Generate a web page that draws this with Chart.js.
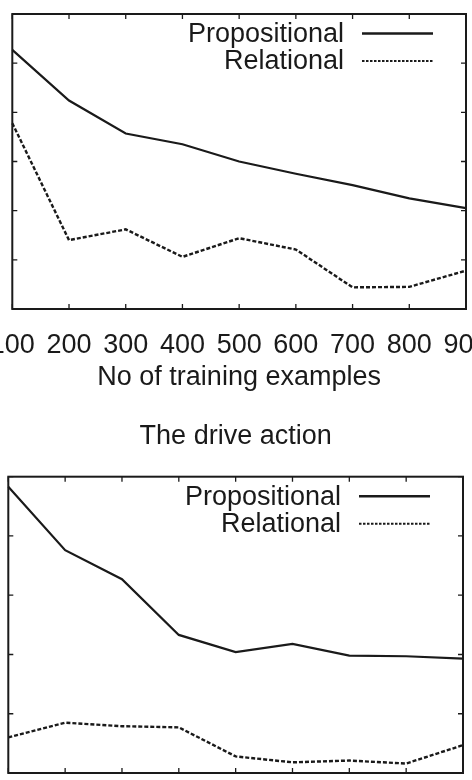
<!DOCTYPE html>
<html>
<head>
<meta charset="utf-8">
<script src="https://cdn.jsdelivr.net/npm/chart.js@4.4.1/dist/chart.umd.min.js"></script>
<style>
  html, body { margin: 0; padding: 0; background: #fff; overflow: hidden; width: 472px; height: 780px; position: relative; }
  canvas { position: absolute; }
  #topChart { left: -60px; top: 0px; }
  #driveChart { left: -60px; top: 400px; }
</style>
</head>
<body>
<canvas id="topChart" width="592" height="394"></canvas>
<canvas id="driveChart" width="592" height="458"></canvas>
<script>
const xLabels = ["100", "200", "300", "400", "500", "600", "700", "800", "900"];

// upper panel (its y labels are cropped off in the original)
const topPropositional = [5.27, 4.24, 3.57, 3.35, 3.00, 2.75, 2.52, 2.25, 2.05];
const topRelational    = [3.78, 1.40, 1.62, 1.06, 1.44, 1.21, 0.44, 0.45, 0.78];

// "The drive action"
const drivePropositional = [4.83, 3.76, 3.27, 2.33, 2.04, 2.18, 1.98, 1.97, 1.93];
const driveRelational    = [0.60, 0.85, 0.79, 0.77, 0.28, 0.18, 0.21, 0.16, 0.47];

const INK = "#1a1a1a";
const FONT = "'Liberation Sans', Arial, sans-serif";
const FS = 27;

// gnuplot style: closed frame, inward mirrored ticks, key with text then sample
const gnuplotFrame = {
  id: "gnuplotFrame",
  afterDatasetsDraw(chart) {
    const { ctx, chartArea: a, scales: { x, y } } = chart;
    ctx.save();
    ctx.strokeStyle = INK;
    ctx.lineWidth = 1.3;
    ctx.beginPath();
    x.ticks.forEach((t, i) => {
      const px = x.getPixelForTick(i);
      ctx.moveTo(px, a.bottom); ctx.lineTo(px, a.bottom - 5);
      ctx.moveTo(px, a.top); ctx.lineTo(px, a.top + 5);
    });
    y.ticks.forEach((t, i) => {
      const py = y.getPixelForTick(i);
      ctx.moveTo(a.left, py); ctx.lineTo(a.left + 5, py);
      ctx.moveTo(a.right, py); ctx.lineTo(a.right - 5, py);
    });
    ctx.stroke();
    ctx.lineWidth = 2;
    ctx.strokeRect(a.left, a.top, a.right - a.left, a.bottom - a.top);

    ctx.font = FS + "px " + FONT;
    ctx.fillStyle = INK;
    ctx.textAlign = "right";
    ctx.textBaseline = "middle";
    chart.data.datasets.forEach((ds, i) => {
      const ky = a.top + 19.5 + i * 27.5;
      ctx.fillText(ds.label, a.right - 122, ky + 1);
      ctx.setLineDash(i ? [2.5, 1.5] : []);
      ctx.lineWidth = i ? 2 : 2.4;
      ctx.beginPath();
      ctx.moveTo(a.right - 104, ky);
      ctx.lineTo(a.right - 33, ky);
      ctx.stroke();
    });
    ctx.restore();
  }
};

function makeChart(id, prop, rel, yMax, opts) {
  return new Chart(document.getElementById(id), {
    type: "line",
    data: {
      labels: xLabels,
      datasets: [
        { label: "Propositional", data: prop, borderColor: INK, borderWidth: 2.2, pointRadius: 0, tension: 0 },
        { label: "Relational", data: rel, borderColor: INK, borderWidth: 2.4, borderDash: [4, 2], pointRadius: 0, tension: 0 }
      ]
    },
    options: {
      responsive: false,
      animation: false,
      layout: { padding: opts.padding },
      plugins: {
        legend: { display: false },
        tooltip: { enabled: false },
        title: opts.title ? {
          display: true,
          text: opts.title,
          color: INK,
          font: { family: FONT, size: FS, weight: "normal" },
          padding: { top: 20.8, bottom: 23.5 }
        } : { display: false }
      },
      scales: {
        x: {
          grid: { display: false },
          border: { display: false },
          ticks: { color: INK, font: { family: FONT, size: FS }, padding: 12.5, maxRotation: 0, autoSkip: false },
          title: opts.xTitle ? {
            display: true, text: opts.xTitle, color: INK,
            font: { family: FONT, size: FS }, padding: 0
          } : { display: false },
          afterFit(s) { s.height = 85; }
        },
        y: {
          min: 0,
          max: yMax,
          grid: { display: false },
          border: { display: false },
          ticks: { display: false, stepSize: 1 },
          afterFit(s) { s.width = 0; }
        }
      }
    },
    plugins: [gnuplotFrame]
  });
}

makeChart("topChart", topPropositional, topRelational, 6, {
  padding: { left: 72.3, right: 66, top: 14, bottom: 0 },
  xTitle: "No of training examples"
});

makeChart("driveChart", drivePropositional, driveRelational, 5, {
  padding: { left: 68.3, right: 69, top: 0, bottom: 0 },
  title: "The drive action"
});
</script>
</body>
</html>
